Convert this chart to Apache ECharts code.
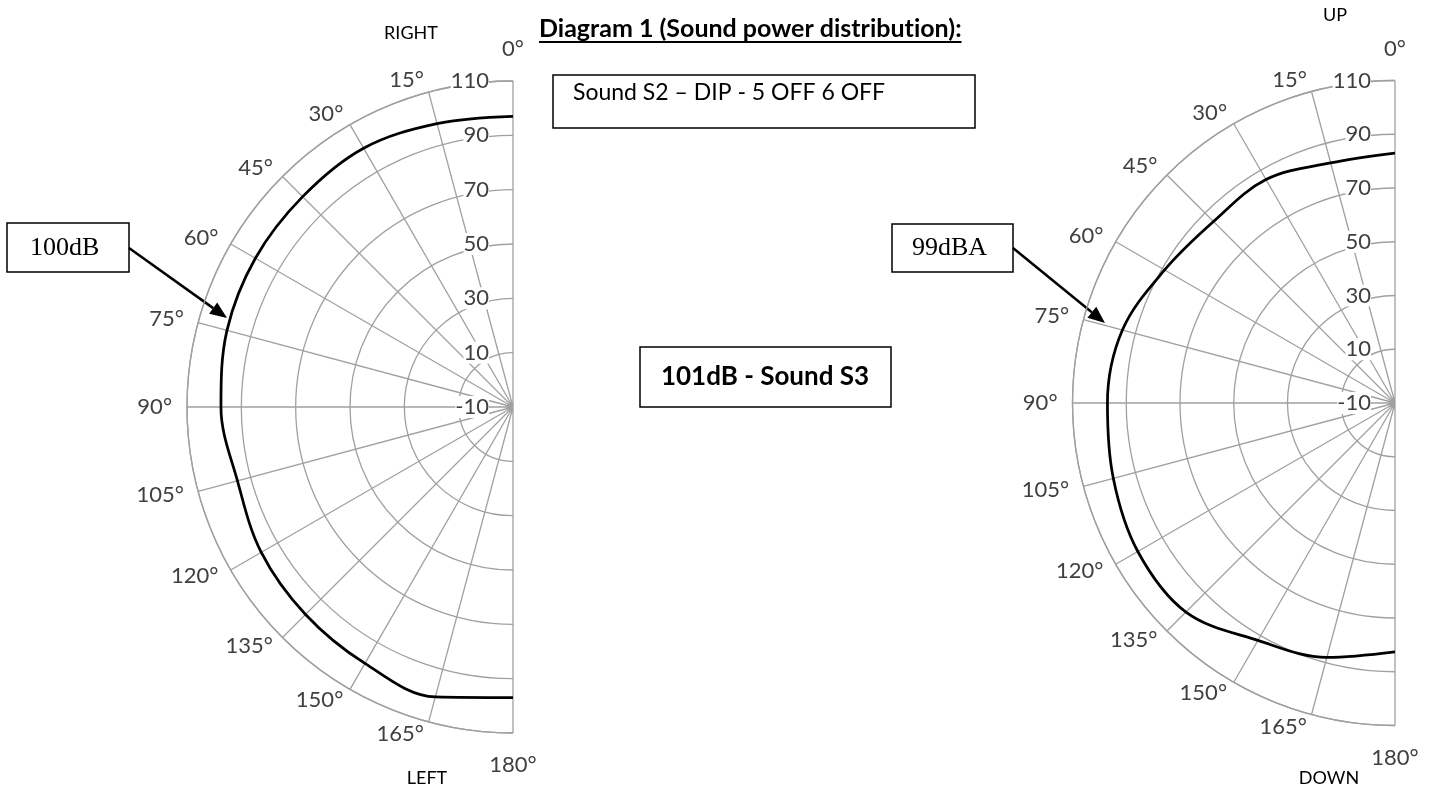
<!DOCTYPE html>
<html>
<head>
<meta charset="utf-8">
<title>Sound power distribution</title>
<script src="https://cdn.jsdelivr.net/npm/echarts@6/dist/echarts.min.js"></script>
<style>
  html, body { margin: 0; padding: 0; background: #fff; }
  #chart { width: 1431px; height: 798px; }
</style>
</head>
<body>
<div id="chart"></div>
<script>
// directions in degrees, 0 = top, 180 = bottom
const angles = [0, 15, 30, 45, 60, 75, 90, 105, 120, 135, 150, 165, 180];
// left diagram (RIGHT / LEFT), 100dB
const levelsLeftRight = [97, 98, 100, 99.5, 99.5, 99, 97.5, 95, 97, 98, 99, 100.5, 97];
// right diagram (UP / DOWN), 99dBA
const levelsUpDown = [83, 82.5, 86, 85.5, 89, 95, 97, 98.5, 100.5, 100, 92, 88, 82.6];
// radial scale in dB
const radialMin = -10;
const radialMax = 110;
const radialStep = 20;

const gridColor = '#a0a0a0';
const labelColor = '#404040';
const font = 'Lato';

const chart = echarts.init(document.getElementById('chart'));

// radial axis is shifted so that ticks fall on -10, 10, 30 ... 110
const shift = -radialMin;
function toPolar(levels) {
  return levels.map((v, i) => [v + shift, angles[i]]);
}

function angleAxis(idx) {
  return {
    polarIndex: idx,
    type: 'value',
    min: 0,
    max: 180,
    interval: 15,
    startAngle: 90,
    endAngle: 270,
    clockwise: false,
    axisLine: { show: true, lineStyle: { color: gridColor, width: 1.3 } },
    axisTick: { show: false },
    axisLabel: { show: false }, // placed below, Excel style
    splitLine: { show: true, lineStyle: { color: gridColor, width: 1.3 } }
  };
}

function radiusAxis(idx) {
  return {
    polarIndex: idx,
    type: 'value',
    min: 0,
    max: radialMax - radialMin,
    interval: radialStep,
    axisLine: { show: false },
    axisTick: { show: false },
    axisLabel: {
      formatter: v => String(v - shift),
      fontFamily: font,
      fontSize: 22,
      color: labelColor,
      margin: 24,
      backgroundColor: '#fff'
    },
    splitLine: { show: true, lineStyle: { color: gridColor, width: 1.3 } }
  };
}

function lineSeries(name, idx, levels) {
  return {
    name: name,
    type: 'line',
    coordinateSystem: 'polar',
    polarIndex: idx,
    data: toPolar(levels),
    smooth: 0.35,
    symbol: 'none',
    lineStyle: { color: '#000', width: 2.75 },
    z: 5
  };
}

chart.setOption({
  animation: false,
  backgroundColor: '#fff',
  polar: [
    { center: [513, 407], radius: 326 },
    { center: [1395, 403], radius: 322.5 }
  ],
  angleAxis: [angleAxis(0), angleAxis(1)],
  radiusAxis: [radiusAxis(0), radiusAxis(1)],
  series: [
    lineSeries('100dB', 0, levelsLeftRight),
    lineSeries('99dBA', 1, levelsUpDown)
  ]
});

function label(text, x, y, size, extra) {
  return {
    type: 'text', x: x, y: y,
    style: Object.assign({
      text: text, fontFamily: font, fontSize: size, fill: '#000',
      align: 'center', verticalAlign: 'middle'
    }, extra || {})
  };
}

// degree labels just outside the outer ring, positioned like the Excel original
function angleLabels(idx) {
  return angles.map(a => {
    const end = chart.convertToPixel({ polarIndex: idx }, [radialMax - radialMin, a]);
    const s = Math.sin(a * Math.PI / 180), c = Math.cos(a * Math.PI / 180);
    if (s < 0.01) {
      return label(a + '°', end[0], end[1] - 32 * c, 22, { fill: labelColor });
    }
    return label(a + '°', end[0] - (4 + 11 * s * s), end[1] - 12.5 * c, 22,
      { fill: labelColor, align: 'right' });
  });
}

// title width for the underline (zero-width non-joiner keeps Lato from using its "ti" ligature)
const title = 'Diagram 1 (Sound power distribut\u200Cion):';
const titleSize = 25;
const measure = document.createElement('canvas').getContext('2d');
measure.font = 'bold ' + titleSize + 'px ' + font;
const titleWidth = measure.measureText(title).width;

function arrow(x1, y1, x2, y2) {
  const a = Math.atan2(y2 - y1, x2 - x1);
  const len = 17, half = 7;
  const bx = x2 - len * Math.cos(a), by = y2 - len * Math.sin(a);
  return [
    { type: 'line', shape: { x1: x1, y1: y1, x2: bx, y2: by },
      style: { stroke: '#000', lineWidth: 2.5 } },
    { type: 'polygon',
      shape: { points: [[x2, y2],
        [bx + half * Math.sin(a), by - half * Math.cos(a)],
        [bx - half * Math.sin(a), by + half * Math.cos(a)]] },
      style: { fill: '#000' } }
  ];
}

function box(x, y, w, h) {
  return { type: 'rect', shape: { x: x, y: y, width: w, height: h },
    style: { fill: '#fff', stroke: '#000', lineWidth: 1.5 } };
}

const graphics = [
  label('RIGHT', 411, 33, 18),
  label('LEFT', 427, 778, 18),
  label('UP', 1335, 15, 18),
  label('DOWN', 1329, 778, 18),
  label(title, 539, 29, titleSize, { align: 'left', fontWeight: 'bold' }),
  { type: 'line', shape: { x1: 539, y1: 42, x2: 539 + titleWidth, y2: 42 },
    style: { stroke: '#000', lineWidth: 2 } },
  box(553, 75, 422, 53),
  label('Sound S2 – DIP - 5 OFF 6 OFF', 573, 93, 23, { align: 'left' }),
  box(640, 347, 251, 60),
  label('101dB - Sound S3', 765, 377, 26, { fontWeight: 'bold' }),
  box(7, 223, 122, 49),
  label('100dB', 30, 248, 26, { align: 'left', fontFamily: 'Liberation Serif' }),
  box(892, 224, 121, 48),
  label('99dBA', 912, 248, 26, { align: 'left', fontFamily: 'Liberation Serif' })
].concat(
  arrow(129, 248, 227, 318),
  arrow(1013, 248, 1105, 323),
  angleLabels(0),
  angleLabels(1)
);

chart.setOption({ graphic: graphics });
</script>
</body>
</html>
